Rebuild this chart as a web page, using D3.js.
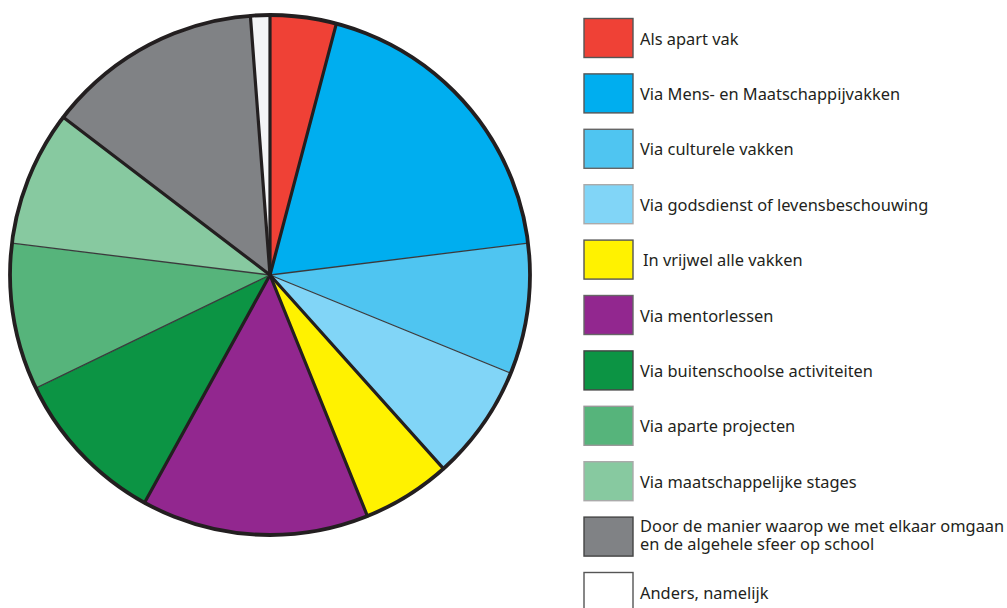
<!DOCTYPE html>
<html>
<head>
<meta charset="utf-8">
<script src="https://cdn.jsdelivr.net/npm/d3@7"></script>
<style>
  html, body { margin: 0; padding: 0; background: #fff; }
  svg { display: block; }
  text { font-family: "Noto Sans", "Open Sans", sans-serif; fill: #231f20; }
</style>
</head>
<body>
<svg id="chart" width="1007" height="608"></svg>
<script>
// Categories in drawing order (clockwise from 12 o'clock)
const categories = [
  "Als apart vak",
  "Via Mens- en Maatschappijvakken",
  "Via culturele vakken",
  "Via godsdienst of levensbeschouwing",
  "In vrijwel alle vakken",
  "Via mentorlessen",
  "Via buitenschoolse activiteiten",
  "Via aparte projecten",
  "Via maatschappelijke stages",
  "Door de manier waarop we met elkaar omgaan\nen de algehele sfeer op school",
  "Anders, namelijk"
];
// Share of answers (percent)
const values = [4.1, 18.9, 8.1, 7.2, 5.5, 14.1, 9.8, 9.1, 8.4, 13.4, 1.2];
// Colour families: neighbouring slices within one family get a thin divider
const groups = ["red", "blue", "blue", "blue", "yellow", "purple", "green", "green", "green", "gray", "white"];
const colors = ["#ef4136", "#00aeef", "#4fc5f1", "#81d5f7", "#fff200", "#92278f",
                "#0c9444", "#56b47b", "#87c9a0", "#808285", "#f3f4f6"];
const legendColors = colors.slice(0, 10).concat(["#ffffff"]);
const legendStrokes = ["#555", "#555", "#666", "#aaa", "#555", "#666", "#444", "#999", "#aaa", "#444", "#555"];

const svg = d3.select("#chart");
const cx = 270, cy = 275, R = 260;

const pie = d3.pie().sort(null).value(d => d)(values);
const arc = d3.arc().innerRadius(0).outerRadius(R);

const g = svg.append("g").attr("transform", `translate(${cx},${cy})`);

g.selectAll("path.slice")
  .data(pie)
  .join("path")
  .attr("class", "slice")
  .attr("d", arc)
  .attr("fill", (d, i) => colors[i]);

// Radial dividers at each slice start
const dividers = pie.map((d, i) => {
  const prev = (i - 1 + pie.length) % pie.length;
  return { angle: d.startAngle, thin: groups[i] === groups[prev] };
});
g.selectAll("line.divider")
  .data(dividers)
  .join("line")
  .attr("class", "divider")
  .attr("x1", 0).attr("y1", 0)
  .attr("x2", d => R * Math.sin(d.angle))
  .attr("y2", d => -R * Math.cos(d.angle))
  .attr("stroke", d => d.thin ? "#3a3a3c" : "#231f20")
  .attr("stroke-width", d => d.thin ? 1.3 : 3.2)
  .attr("stroke-linecap", "round");

// Outer rim
g.append("circle")
  .attr("r", R)
  .attr("fill", "none")
  .attr("stroke", "#231f20")
  .attr("stroke-width", 3.8);

// Legend
const ly = d3.scaleLinear().domain([0, 10]).range([18.5, 572.5]);
const legend = svg.append("g");
const items = legend.selectAll("g.item")
  .data(categories)
  .join("g")
  .attr("class", "item")
  .attr("transform", (d, i) => `translate(584,${ly(i)})`);

items.append("rect")
  .attr("width", 49)
  .attr("height", 39)
  .attr("fill", (d, i) => legendColors[i])
  .attr("stroke", (d, i) => legendStrokes[i])
  .attr("stroke-width", 1.4);

items.each(function (d, i) {
  const lines = d.split("\n");
  const tx = i === 4 ? 59 : 56;
  const t = d3.select(this).append("text")
    .attr("x", tx)
    .attr("font-size", 16.4);
  const y0 = lines.length > 1 ? 14.5 : 26;
  lines.forEach((ln, j) => {
    t.append("tspan").attr("x", tx).attr("y", y0 + j * 18.5).text(ln);
  });
});
</script>
</body>
</html>
